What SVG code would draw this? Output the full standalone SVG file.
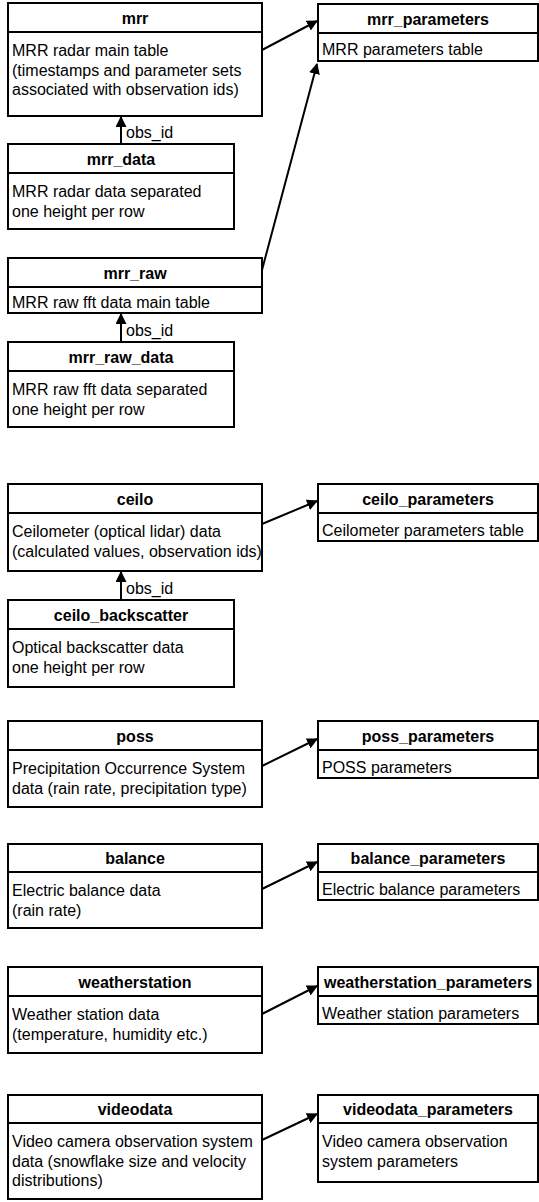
<svg xmlns="http://www.w3.org/2000/svg" width="539" height="1202" viewBox="0 0 539 1202">
<style>
rect{fill:#fff;stroke:#000;stroke-width:2}
.div{stroke:#000;stroke-width:2}
text{font-family:"Liberation Sans",Arial,sans-serif;font-size:16px;fill:#000}
.h{font-weight:bold;text-anchor:middle}
.c{stroke:#000;stroke-width:2;fill:none;marker-end:url(#arr)}
</style>
<defs>
<marker id="arr" viewBox="0 0 10 10" refX="9" refY="5" markerWidth="5.5" markerHeight="5.5" orient="auto" markerUnits="strokeWidth">
<path d="M0,0 L10,5 L0,10 z" fill="#000"/>
</marker>
</defs>
<rect width="539" height="1202" style="fill:#fff;stroke:none"/>

<g id="mrr"><rect x="8" y="3" width="254" height="113"/><line class="div" x1="8" y1="32" x2="262" y2="32"/>
<text class="h" x="135" y="24">mrr</text>
<text x="12" y="56">MRR radar main table</text><text x="12" y="75.5">(timestamps and parameter sets</text><text x="12" y="95">associated with observation ids)</text></g>

<g id="mrr_parameters"><rect x="318" y="4" width="220" height="57"/><line class="div" x1="318" y1="33" x2="538" y2="33"/>
<text class="h" x="428" y="25">mrr_parameters</text>
<text x="322" y="55">MRR parameters table</text></g>

<g id="mrr_data"><rect x="8" y="144" width="226" height="85"/><line class="div" x1="8" y1="173" x2="234" y2="173"/>
<text class="h" x="121" y="165">mrr_data</text>
<text x="12" y="197">MRR radar data separated</text><text x="12" y="216.5">one height per row</text></g>

<g id="mrr_raw"><rect x="8" y="258" width="254" height="55"/><line class="div" x1="8" y1="287" x2="262" y2="287"/>
<text class="h" x="135" y="279">mrr_raw</text>
<text x="12" y="308">MRR raw fft data main table</text></g>

<g id="mrr_raw_data"><rect x="8" y="342" width="226" height="85"/><line class="div" x1="8" y1="371" x2="234" y2="371"/>
<text class="h" x="121" y="363">mrr_raw_data</text>
<text x="12" y="395">MRR raw fft data separated</text><text x="12" y="414.5">one height per row</text></g>

<g id="ceilo"><rect x="8" y="484" width="254" height="87"/><line class="div" x1="8" y1="513" x2="262" y2="513"/>
<text class="h" x="135" y="505">ceilo</text>
<text x="12" y="537">Ceilometer (optical lidar) data</text><text x="12" y="556.5">(calculated values, observation ids)</text></g>

<g id="ceilo_parameters"><rect x="318" y="484" width="220" height="57"/><line class="div" x1="318" y1="513" x2="538" y2="513"/>
<text class="h" x="428" y="505">ceilo_parameters</text>
<text x="322" y="536">Ceilometer parameters table</text></g>

<g id="ceilo_backscatter"><rect x="8" y="600" width="226" height="87"/><line class="div" x1="8" y1="629" x2="234" y2="629"/>
<text class="h" x="121" y="621">ceilo_backscatter</text>
<text x="12" y="653">Optical backscatter data</text><text x="12" y="672.5">one height per row</text></g>

<g id="poss"><rect x="8" y="721" width="254" height="86"/><line class="div" x1="8" y1="750" x2="262" y2="750"/>
<text class="h" x="135" y="742">poss</text>
<text x="12" y="774">Precipitation Occurrence System</text><text x="12" y="793.5">data (rain rate, precipitation type)</text></g>

<g id="poss_parameters"><rect x="318" y="721" width="220" height="57"/><line class="div" x1="318" y1="750" x2="538" y2="750"/>
<text class="h" x="428" y="742">poss_parameters</text>
<text x="322" y="773">POSS parameters</text></g>

<g id="balance"><rect x="8" y="844" width="254" height="84"/><line class="div" x1="8" y1="872" x2="262" y2="872"/>
<text class="h" x="135" y="864">balance</text>
<text x="12" y="896">Electric balance data</text><text x="12" y="915.5">(rain rate)</text></g>

<g id="balance_parameters"><rect x="318" y="844" width="220" height="56"/><line class="div" x1="318" y1="872" x2="538" y2="872"/>
<text class="h" x="428" y="864">balance_parameters</text>
<text x="322" y="895">Electric balance parameters</text></g>

<g id="weatherstation"><rect x="8" y="967" width="254" height="86"/><line class="div" x1="8" y1="996" x2="262" y2="996"/>
<text class="h" x="135" y="988">weatherstation</text>
<text x="12" y="1020">Weather station data</text><text x="12" y="1039.5">(temperature, humidity etc.)</text></g>

<g id="weatherstation_parameters"><rect x="318" y="967" width="220" height="57"/><line class="div" x1="318" y1="996" x2="538" y2="996"/>
<text class="h" x="428" y="988">weatherstation_parameters</text>
<text x="322" y="1019">Weather station parameters</text></g>

<g id="videodata"><rect x="8" y="1095" width="254" height="104"/><line class="div" x1="8" y1="1123" x2="262" y2="1123"/>
<text class="h" x="135" y="1115">videodata</text>
<text x="12" y="1147">Video camera observation system</text><text x="12" y="1166.5">data (snowflake size and velocity</text><text x="12" y="1186">distributions)</text></g>

<g id="videodata_parameters"><rect x="318" y="1095" width="220" height="87"/><line class="div" x1="318" y1="1123" x2="538" y2="1123"/>
<text class="h" x="428" y="1115">videodata_parameters</text>
<text x="322" y="1147">Video camera observation</text><text x="322" y="1166.5">system parameters</text></g>

<g id="connectors">
<line class="c" x1="262" y1="50" x2="317" y2="21"/>
<line class="c" x1="262" y1="270" x2="317" y2="64"/>
<line class="c" x1="121" y1="144" x2="121" y2="117"/>
<line class="c" x1="121" y1="342" x2="121" y2="314"/>
<line class="c" x1="121" y1="600" x2="121" y2="572"/>
<line class="c" x1="262" y1="524" x2="317" y2="501"/>
<line class="c" x1="262" y1="766" x2="317" y2="739"/>
<line class="c" x1="262" y1="889" x2="317" y2="862"/>
<line class="c" x1="262" y1="1014" x2="317" y2="986"/>
<line class="c" x1="262" y1="1140" x2="317" y2="1114"/>
<text x="126" y="138">obs_id</text>
<text x="126" y="336">obs_id</text>
<text x="126" y="594">obs_id</text>
</g>
</svg>
